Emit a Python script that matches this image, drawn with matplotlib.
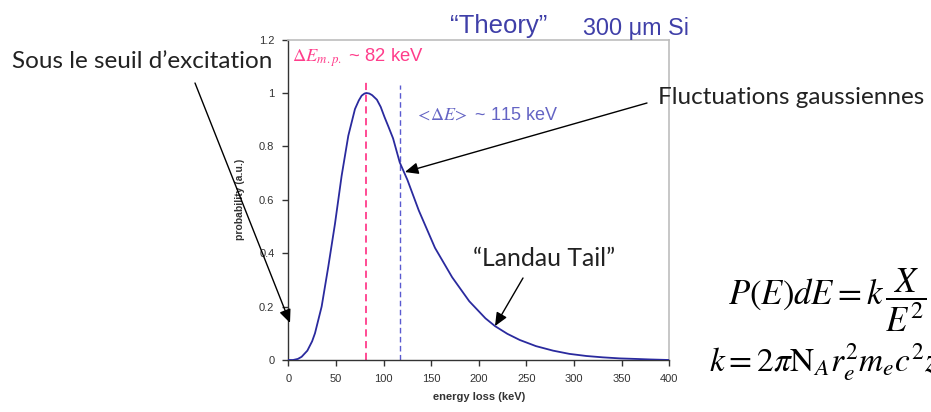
import matplotlib
matplotlib.use("Agg")
import matplotlib.pyplot as plt

plt.rcParams["mathtext.fontset"] = "stix"
plt.rcParams["font.family"] = ["Liberation Sans", "DejaVu Sans"]

# Energy-loss distribution in 300 um of silicon
energy_kev = [0, 5, 10, 14, 20, 25, 28, 35, 42, 49, 56, 63, 70, 74, 77, 80, 82,
              85, 88, 93, 97, 101, 105, 110, 117, 125, 137, 154, 172, 190, 207,
              217, 230, 243, 260, 278, 295, 313, 330, 348, 365, 380, 400]
probability = [0.0, 0.0, 0.004, 0.012, 0.035, 0.07, 0.10, 0.20, 0.35, 0.51,
               0.69, 0.84, 0.94, 0.972, 0.99, 0.998, 1.0, 0.998, 0.992, 0.975,
               0.948, 0.91, 0.875, 0.83, 0.74, 0.675, 0.56, 0.42, 0.31, 0.22,
               0.156, 0.127, 0.098, 0.075, 0.052, 0.035, 0.023, 0.015, 0.01,
               0.006, 0.004, 0.002, 0.0]

most_probable_kev = 82
mean_kev = 117

x_ticks = [0, 50, 100, 150, 200, 250, 300, 350, 400]
y_ticks = [0, 0.2, 0.4, 0.6, 0.8, 1.0, 1.2]
y_tick_labels = ["0", "0.2", "0.4", "0.6", "0.8", "1", "1.2"]

W, H = 931, 412
fig = plt.figure(figsize=(W / 100, H / 100), dpi=100)
fig.patch.set_facecolor("white")

ax = fig.add_axes([288.3 / W, 52 / H, 381 / W, 320.4 / H])
ax.plot(energy_kev, probability, color="#2a2a9e", lw=1.3, zorder=3)
ax.plot([most_probable_kev, most_probable_kev], [0, 1.04], color="#ff3d8b",
        lw=1.3, ls=(0, (4, 2.5)), zorder=2)
ax.plot([mean_kev, mean_kev], [0, 1.03], color="#5a5ad0",
        lw=1.0, ls=(0, (4, 2.5)), zorder=2)

ax.set_xlim(0, 400)
ax.set_ylim(0, 1.2)
ax.set_xticks(x_ticks)
ax.set_yticks(y_ticks)
ax.set_yticklabels(y_tick_labels)
ax.tick_params(axis="both", direction="out", length=4, width=1,
               labelsize=8, colors="#333333", pad=6)
for side in ("left", "bottom"):
    ax.spines[side].set_color("#333333")
    ax.spines[side].set_linewidth(1.0)
for side in ("top", "right"):
    ax.spines[side].set_color("#bdbdbd")
    ax.spines[side].set_linewidth(1.2)

ax.set_xlabel("energy loss (keV)", fontsize=8, fontweight="bold",
              color="#333333", labelpad=6)
ax.set_ylabel("probability (a.u.)", fontsize=7.5, fontweight="bold",
              color="#333333", labelpad=10)


def img_text(x, y, s, **kw):
    fig.text(x / W, 1 - y / H, s, **kw)


# Title and value labels
img_text(450, 26, "\u201cTheory\u201d", fontsize=18.5, color="#3f3fa8",
         ha="left", va="center")
img_text(583, 28, "300 \u03bcm Si", fontsize=16.8, color="#3f3fa8",
         ha="left", va="center")
img_text(292, 58, r"$\Delta E_{\mathit{m.p.}}$ ~ 82 keV", fontsize=13.3,
         color="#ff3d8b", ha="left", va="center")
img_text(415, 115, r"$<\!\Delta E\!>$ ~ 115 keV", fontsize=13,
         color="#6464c4", ha="left", va="center")

# Annotations with arrows
note_font = ["Lato", "DejaVu Sans"]
img_text(12, 62, "Sous le seuil d\u2019excitation", fontsize=17.5,
         family=note_font, color="#222222", ha="left", va="center")
img_text(658, 97, "Fluctuations gaussiennes", fontsize=17.5,
         family=note_font, color="#222222", ha="left", va="center")
img_text(473, 259, "\u201cLandau Tail\u201d", fontsize=17.8,
         family=note_font, color="#222222", ha="left", va="center")

arrow = dict(arrowstyle="-|>,head_length=0.8,head_width=0.35",
             color="black", lw=1.0, shrinkA=0, shrinkB=0)
ax.annotate("", xy=(1.8, 0.139), xycoords="data",
            xytext=(195, H - 83), textcoords="figure pixels",
            arrowprops=arrow, annotation_clip=False)
ax.annotate("", xy=(122.4, 0.704), xycoords="data",
            xytext=(647, H - 103), textcoords="figure pixels",
            arrowprops=arrow, annotation_clip=False)
ax.annotate("", xy=(217, 0.127), xycoords="data",
            xytext=(523, H - 278), textcoords="figure pixels",
            arrowprops=arrow, annotation_clip=False)

# Landau distribution formulas (they run on past the right edge)
img_text(728, 300, r"$P(E)dE = k\,\dfrac{X}{E^2}$", fontsize=25,
         color="black", ha="left", va="center")
img_text(709, 362, r"$k = 2\pi \mathrm{N}_A r_e^2 m_e c^2 z$", fontsize=24,
         color="black", ha="left", va="center")

fig.savefig("out.png", dpi=100, facecolor="white")
